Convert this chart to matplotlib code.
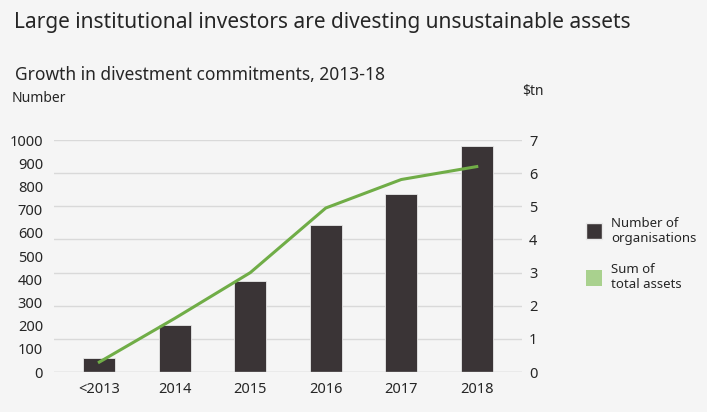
import matplotlib.pyplot as plt
from matplotlib.patches import Patch

# data
years = ["<2013", "2014", "2015", "2016", "2017", "2018"]
organisations = [60, 203, 392, 633, 766, 974]
total_assets = [0.3, 1.62, 3.0, 4.95, 5.81, 6.2]

bg = "#f5f5f5"
bar_col = "#3a3436"
line_col = "#70ad47"
legend_green = "#a9d18e"
txt = "#262626"

plt.rcParams["font.family"] = ["Noto Sans", "DejaVu Sans"]

fig = plt.figure(figsize=(7.07, 4.12), dpi=100, facecolor=bg)
ax = fig.add_axes([0.0764, 0.097, 0.662, 0.563], facecolor=bg)
ax2 = ax.twinx()

x = range(len(years))
ax.bar(x, organisations, width=0.42, color=bar_col, edgecolor="#e8e8e8", linewidth=0.6, zorder=3)
ax2.plot(x, total_assets, color=line_col, lw=2.2, zorder=4)

ax.set_xlim(-0.6, 5.6)
ax.set_ylim(0, 1000)
ax2.set_ylim(0, 7)
ax.set_yticks(range(0, 1001, 100))
ax2.set_yticks(range(0, 8))

# gridlines follow the right-hand axis, drawn behind the bars
for v in range(1, 8):
    ax.axhline(v * 1000 / 7, color="#d9d9d9", lw=1, zorder=0)
ax.axhline(0, color="#bfbfbf", lw=1, zorder=5)

ax.set_xticks(list(x))
ax.set_xticklabels(years)
for a in (ax, ax2):
    for s in a.spines.values():
        s.set_visible(False)
    a.tick_params(length=0, labelsize=10.5, colors=txt)
ax.tick_params(axis="y", pad=8)
ax.tick_params(axis="x", pad=7)
ax2.tick_params(axis="y", pad=5)

fig.text(0.02, 0.945, "Large institutional investors are divesting unsustainable assets",
         fontsize=15, color=txt, va="center")
fig.text(0.021, 0.818, "Growth in divestment commitments, 2013-18",
         fontsize=12.5, color=txt, va="center")
fig.text(0.017, 0.762, "Number", fontsize=10, color=txt, va="center")
fig.text(0.739, 0.779, "$tn", fontsize=10, color=txt, va="center")

handles = [Patch(facecolor=bar_col, edgecolor="#e8e8e8"),
           Patch(facecolor=legend_green)]
fig.legend(handles, ["Number of\norganisations", "Sum of\ntotal assets"],
           loc="center left", bbox_to_anchor=(0.812, 0.384), frameon=False,
           fontsize=9.5, handlelength=1.2, handleheight=1.5, handletextpad=0.68,
           labelspacing=1.4, labelcolor=txt)

fig.savefig("out.png", dpi=100, facecolor=bg)
